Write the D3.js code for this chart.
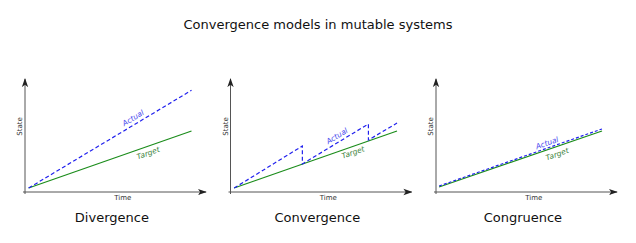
<!DOCTYPE html>
<html><head><meta charset="utf-8">
<script src="https://cdn.jsdelivr.net/npm/d3@7"></script>
<style>body{margin:0;background:#fff}svg{display:block;font-family:"DejaVu Sans",sans-serif}</style>
</head><body>
<script>
const title = "Convergence models in mutable systems";
const panelNames = ["Divergence", "Convergence", "Congruence"];
const xLabel = "Time", yLabel = "State";
// data: [time, state] in 0..10 units
const targetSeries = [
  [[0.2, 0.35], [9.2, 5.4]],
  [[0.2, 0.35], [9.2, 5.4]],
  [[0.17, 0.44], [9.17, 5.4]]
];
const actualSeries = [
  [[0.2, 0.35], [9.2, 9.0]],
  [[0.2, 0.35], [3.97, 4.07], [3.97, 2.48], [7.62, 6.02], [7.62, 4.6], [9.2, 6.1]],
  [[0.17, 0.53], [9.17, 5.58]]
];
const actualLabelPos = [[5.97, 6.55], [5.88, 4.96], [6.13, 4.34]];
const targetLabelPos = [[6.8, 3.45], [6.77, 3.5], [6.69, 3.36]];

const W = 636, H = 243;
const svg = d3.select("body").append("svg").attr("width", W).attr("height", H);
const defs = svg.append("defs");
defs.append("marker").attr("id", "arr").attr("viewBox", "0 0 10 10")
  .attr("refX", 9).attr("refY", 5).attr("markerWidth", 9).attr("markerHeight", 9)
  .attr("markerUnits", "userSpaceOnUse").attr("orient", "auto")
  .append("path").attr("d", "M0,1.5 L10,5 L0,8.5 L2.5,5 Z").attr("fill", "#222");

svg.append("text").attr("x", 318).attr("y", 29).attr("text-anchor", "middle")
  .attr("font-size", 13).attr("fill", "#111").text(title);

const offsets = [25, 230.5, 436];
const dashes = ["4,2.5", "4,2.5", "3,2"];
panelNames.forEach((name, i) => {
  const x0 = offsets[i];
  const x = d3.scaleLinear().domain([0, 10]).range([x0, x0 + 181]);
  const y = d3.scaleLinear().domain([0, 10]).range([192, 79]);
  const g = svg.append("g");
  // axes
  g.append("line").attr("x1", x(0) - 2).attr("x2", x(10)).attr("y1", y(0)).attr("y2", y(0))
    .attr("stroke", "#555").attr("stroke-width", 1).attr("marker-end", "url(#arr)");
  g.append("line").attr("x1", x(0)).attr("x2", x(0)).attr("y1", y(0) + 2).attr("y2", y(10))
    .attr("stroke", "#555").attr("stroke-width", 1).attr("marker-end", "url(#arr)");
  g.append("text").attr("x", x(5.4)).attr("y", y(0) + 8).attr("text-anchor", "middle")
    .attr("font-size", 7).attr("fill", "#333").text(xLabel);
  g.append("text").attr("transform", `translate(${x(0) - 3},${y(5.8)}) rotate(-90)`)
    .attr("text-anchor", "middle").attr("font-size", 7).attr("fill", "#333").text(yLabel);

  const line = d3.line().x(d => x(d[0])).y(d => y(d[1]));
  g.append("path").attr("d", line(targetSeries[i])).attr("fill", "none")
    .attr("stroke", "#1a8c1a").attr("stroke-width", 1.2);
  g.append("path").attr("d", line(actualSeries[i])).attr("fill", "none")
    .attr("stroke", "#2020ee").attr("stroke-width", 1.2).attr("stroke-dasharray", dashes[i]);

  function angle(s) {
    const a = s[0], b = s[1];
    return Math.atan2(y(b[1]) - y(a[1]), x(b[0]) - x(a[0])) * 180 / Math.PI;
  }
  const aSeg = i === 1 ? [actualSeries[i][2], actualSeries[i][3]] : actualSeries[i];
  const tSeg = targetSeries[i];
  const ap = actualLabelPos[i], tp = targetLabelPos[i];
  g.append("text").attr("transform", `translate(${x(ap[0])},${y(ap[1])}) rotate(${angle(aSeg)})`)
    .attr("text-anchor", "middle").attr("dy", "0.35em").attr("font-size", 7.5).attr("font-style", "italic")
    .attr("fill", "#4a4aee").text("Actual");
  g.append("text").attr("transform", `translate(${x(tp[0])},${y(tp[1])}) rotate(${angle(tSeg)})`)
    .attr("text-anchor", "middle").attr("dy", "0.35em").attr("font-size", 7.5).attr("font-style", "italic")
    .attr("fill", "#3a7f3a").text("Target");

  g.append("text").attr("x", x(4.8)).attr("y", 222).attr("text-anchor", "middle")
    .attr("font-size", 13).attr("fill", "#111").text(name);
});
</script>
</body></html>
